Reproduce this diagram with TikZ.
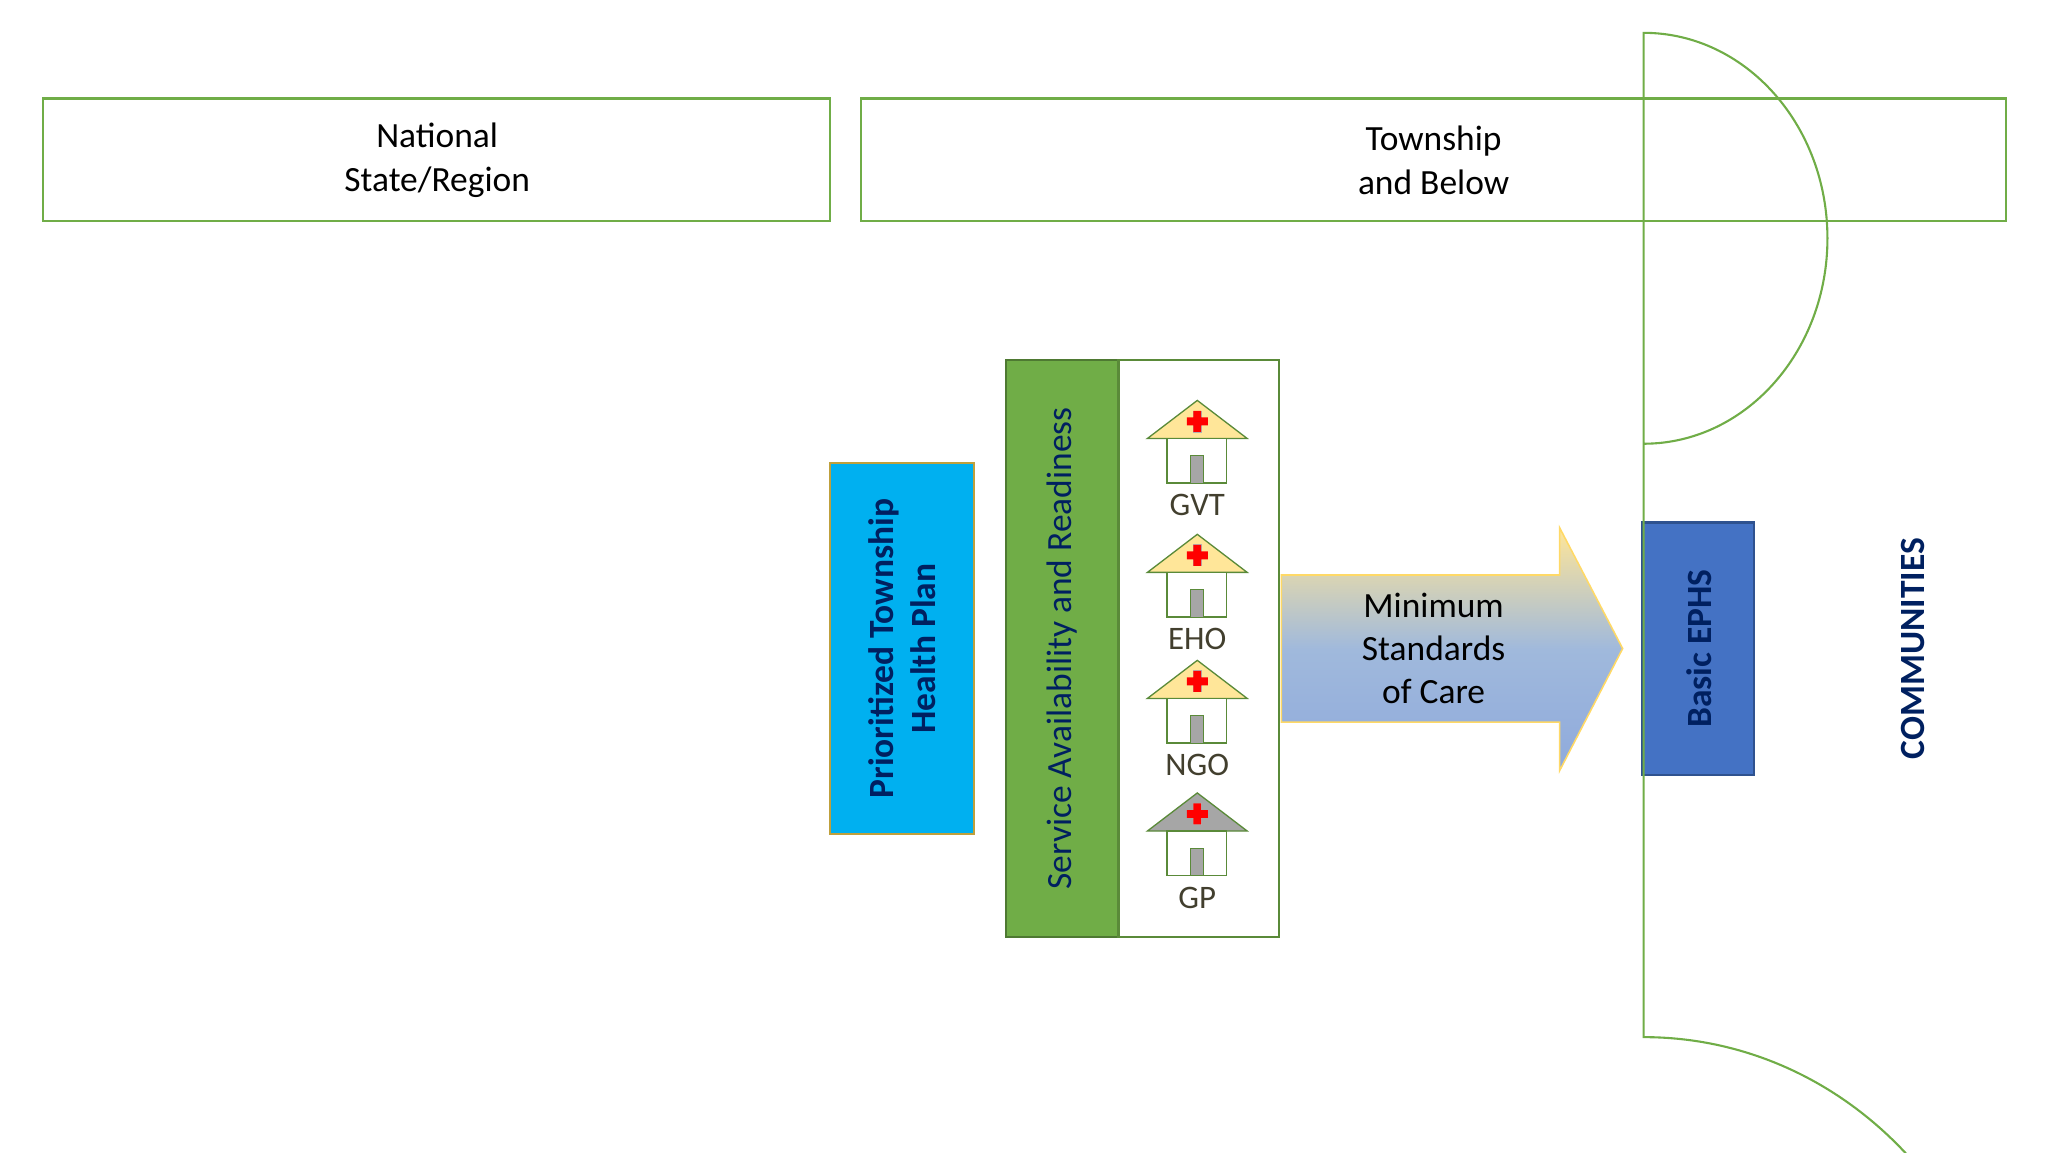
\documentclass[tikz,border=0pt]{standalone}
\usepackage{fontspec}
\setmainfont{Carlito}
\begin{document}
\begin{tikzpicture}[x=0.5pt,y=-0.5pt,
  lvl/.style={draw=green!50!black!70!lime,line width=0.8pt},
  txt/.style={font=\fontsize{13.5}{16.5}\selectfont,align=center},
  dk/.style={text=blue!40!black}]
\definecolor{gline}{HTML}{70AD47}
\definecolor{dblue}{HTML}{002060}
\useasboundingbox (0,0) rectangle (1560,878);
\draw[gline,line width=0.8pt] (33,75) rectangle (632,168);
\node[txt] (nat) at (333,122) {National\\State/Region};
\draw[gline,line width=0.8pt] (656,75) rectangle (1528,168);
\node[txt] (tw) at (1092,122) {Township\\and Below};
% plan
\draw[fill={rgb,255:red,0;green,176;blue,240},draw={rgb,255:red,191;green,160;blue,60},line width=0.8pt] (632,353) rectangle (742,635);
\node[txt,font=\fontsize{13.5}{16}\selectfont\bfseries,text=dblue,rotate=90] (plan) at (687,494) {Prioritized Township\\Health Plan};
% service
\draw[fill=gline,draw=gline!70!black,line width=0.8pt] (766,274) rectangle (852,714);
\draw[draw=gline!80!black,line width=0.8pt] (852,274) rectangle (974,714);
\node[txt,text=dblue,rotate=90] (sar) at (809,494) {Service Availability and Readiness};
% houses
\foreach \y/\l/\rc in {305/GVT/{rgb,255:red,255;green,230;blue,153},407/EHO/{rgb,255:red,255;green,230;blue,153},503/NGO/{rgb,255:red,255;green,230;blue,153},604/GP/{rgb,255:red,166;green,166;blue,166}}{
  \draw[fill=\rc,draw=gline!80!black,line width=0.5pt] (874,\y+29) -- (912,\y) -- (950,\y+29) -- cycle;
  \draw[fill=white,draw=gline!80!black,line width=0.5pt] (889,\y+29) rectangle (934,\y+63);
  \draw[fill=gray!70,draw=gline!80!black,line width=0.4pt] (907,\y+42) rectangle (917,\y+63);
  \fill[red,draw=gray!60,line width=0.3pt] (909,\y+8) rectangle (915,\y+24);
  \fill[red] (904,\y+13) rectangle (920,\y+19) (909,\y+8) rectangle (915,\y+24);
  \node[font=\fontsize{12.5}{14}\selectfont,text=black!70!olive] at (912,\y+80) {\l};
}
% arrow
\shade[top color={rgb,255:red,255;green,230;blue,153},bottom color={rgb,255:red,143;green,170;blue,220},middle color={rgb,255:red,160;green,185;blue,220}]
  (976,438) -- (1188,438) -- (1188,402) -- (1236,494) -- (1188,587) -- (1188,550) -- (976,550) -- cycle;
\draw[draw={rgb,255:red,255;green,217;blue,102},line width=0.6pt]
  (976,438) -- (1188,438) -- (1188,402) -- (1236,494) -- (1188,587) -- (1188,550) -- (976,550) -- cycle;
\node[txt] (msc) at (1092,494) {Minimum\\Standards\\of Care};
% EPHS
\draw[fill={rgb,255:red,68;green,114;blue,196},draw={rgb,255:red,47;green,82;blue,143},line width=0.8pt] (1251,398) rectangle (1336,590);
\node[txt,font=\fontsize{13.5}{16}\selectfont\bfseries,text=dblue,rotate=90] (ephs) at (1294,494) {Basic EPHS};
% communities
\draw[gline,line width=0.8pt] (1252,198) -- (1252,338) arc[start angle=-90,end angle=90,x radius=140,y radius=-156.5] -- (1252,790)
  arc[start angle=90,end angle=-90,x radius=280,y radius=-296] ;
\node[txt,font=\fontsize{13.5}{16}\selectfont\bfseries,text=dblue,rotate=90] (com) at (1457,494) {COMMUNITIES};
\end{tikzpicture}
\end{document}
